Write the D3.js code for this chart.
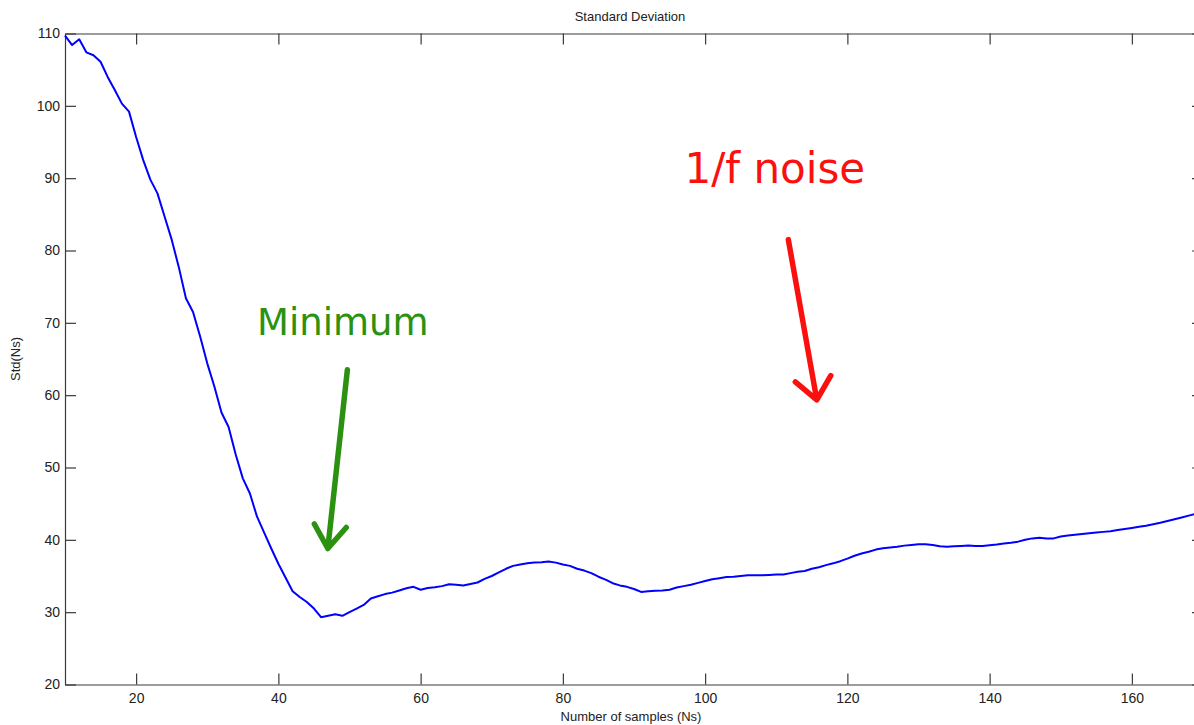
<!DOCTYPE html>
<html>
<head>
<meta charset="utf-8">
<script src="https://cdn.jsdelivr.net/npm/d3@7"></script>
<style>
  body { margin: 0; background: #fff; }
  svg { display: block; }
  text { font-family: "Liberation Sans", Arial, sans-serif; }
</style>
</head>
<body>
<svg id="chart" width="1194" height="725"></svg>
<script>
// samples Ns = 10..170, std
var nsStart = 10,
    nsEnd = 170;

var stdValues = [
    109.7, 108.4, 109.2, 107.4, 107.0, 106.1, 104.0, 102.2, 100.3, 99.2,   // 10-19
    95.7, 92.5, 89.8, 87.9, 84.7, 81.5, 77.7, 73.4, 71.5, 68.1,            // 20-29
    64.4, 61.2, 57.6, 55.6, 51.8, 48.5, 46.4, 43.2, 41.0, 38.8,            // 30-39
    36.7, 34.8, 32.9, 32.1, 31.4, 30.5, 29.3, 29.5, 29.7, 29.5,            // 40-49
    30.0, 30.5, 31.0, 31.9, 32.2, 32.5, 32.7, 33.0, 33.3, 33.5,            // 50-59
    33.1, 33.35, 33.45, 33.6, 33.85, 33.8, 33.7, 33.9, 34.1, 34.6,         // 60-69
    35.0, 35.5, 36.0, 36.4, 36.6, 36.75, 36.85, 36.9, 37.0, 36.85,         // 70-79
    36.6, 36.4, 36.0, 35.75, 35.4, 34.9, 34.5, 34.0, 33.7, 33.5,           // 80-89
    33.2, 32.8, 32.9, 32.95, 33.0, 33.1, 33.4, 33.6, 33.8, 34.05,          // 90-99
    34.3, 34.55, 34.7, 34.85, 34.9, 35.0, 35.1, 35.1, 35.1, 35.15,         // 100-109
    35.2, 35.2, 35.4, 35.6, 35.7, 36.0, 36.2, 36.5, 36.75, 37.05,          // 110-119
    37.4, 37.8, 38.1, 38.35, 38.65, 38.85, 38.95, 39.05, 39.2, 39.3,       // 120-129
    39.4, 39.4, 39.3, 39.1, 39.05, 39.1, 39.15, 39.2, 39.15, 39.15,        // 130-139
    39.25, 39.35, 39.5, 39.6, 39.75, 40.0, 40.2, 40.3, 40.2, 40.2,         // 140-149
    40.45, 40.6, 40.7, 40.8, 40.9, 41.0, 41.1, 41.2, 41.35, 41.5,          // 150-159
    41.65, 41.8, 41.95, 42.15, 42.35, 42.6, 42.85, 43.1, 43.35, 43.6,      // 160-169
    43.85                                                                   // 170
];

var xTicks = [20, 40, 60, 80, 100, 120, 140, 160];
var yTicks = [20, 30, 40, 50, 60, 70, 80, 90, 100, 110];

// hand drawn notes, in data units
var notes = [
    { text: 'Minimum', x: 37.0, y: 68.3, size: 37, color: '#2b9110',
      from: [49.7, 63.5], to: [46.95, 38.8], wing: 35 },
    { text: '1/f noise', x: 97.1, y: 89.3, size: 42, color: '#fb1010',
      from: [111.7, 81.5], to: [115.7, 59.35], wing: 40 }
];

var margin = { top: 33.5, left: 65 },
    plotW = 1138,
    plotH = 651;

var svg = d3.select('#chart');

var x = d3.scaleLinear().domain([nsStart, nsEnd]).range([0, plotW]);
var y = d3.scaleLinear().domain([20, 110]).range([plotH, 0]);

var g = svg.append('g')
    .attr('transform', 'translate(' + margin.left + ',' + margin.top + ')');

var data = stdValues.map(function(v, i) {
    return { ns: nsStart + i, std: v };
});

function styleAxis(sel) {
    sel.select('.domain').attr('stroke', '#3a3a3a').attr('stroke-width', 1.2);
    sel.selectAll('.tick line').attr('stroke', '#3a3a3a').attr('stroke-width', 1.2);
    sel.selectAll('.tick text')
        .attr('fill', '#222')
        .style('font-size', '14px')
        .style('font-family', '"Liberation Sans", Arial, sans-serif');
}

g.append('g')
    .attr('transform', 'translate(0,' + plotH + ')')
    .call(d3.axisBottom(x).tickValues(xTicks).tickSizeInner(-11).tickSizeOuter(0).tickPadding(8.5))
    .call(styleAxis);

g.append('g')
    .call(d3.axisTop(x).tickValues(xTicks).tickSizeInner(-11).tickSizeOuter(0).tickFormat(''))
    .call(styleAxis);

g.append('g')
    .call(d3.axisLeft(y).tickValues(yTicks).tickSizeInner(-11).tickSizeOuter(0).tickPadding(5))
    .call(styleAxis);

g.append('g')
    .attr('transform', 'translate(' + plotW + ',0)')
    .call(d3.axisRight(y).tickValues(yTicks).tickSizeInner(-11).tickSizeOuter(0).tickFormat(''))
    .call(styleAxis);

var line = d3.line()
    .x(function(d) { return x(d.ns); })
    .y(function(d) { return y(d.std); });

g.append('path')
    .datum(data)
    .attr('fill', 'none')
    .attr('stroke', '#0000ff')
    .attr('stroke-width', 2)
    .attr('stroke-linejoin', 'round')
    .attr('d', line);

// titles
svg.append('text')
    .attr('x', 630)
    .attr('y', 21)
    .attr('text-anchor', 'middle')
    .attr('fill', '#222')
    .style('font-size', '13px')
    .text('Standard Deviation');

svg.append('text')
    .attr('x', margin.left + plotW / 2 - 3)
    .attr('y', 721)
    .attr('text-anchor', 'middle')
    .attr('fill', '#222')
    .style('font-size', '13px')
    .text('Number of samples (Ns)');

svg.append('text')
    .attr('transform', 'translate(20,' + (margin.top + plotH / 2) + ') rotate(-90)')
    .attr('text-anchor', 'middle')
    .attr('fill', '#222')
    .style('font-size', '13px')
    .text('Std(Ns)');

// annotations
notes.forEach(function(n) {
    g.append('text')
        .attr('x', x(n.x))
        .attr('y', y(n.y))
        .attr('fill', n.color)
        .style('font-family', '"DejaVu Sans", Verdana, sans-serif')
        .style('font-size', n.size + 'px')
        .text(n.text);

    var x0 = x(n.from[0]), y0 = y(n.from[1]),
        x1 = x(n.to[0]), y1 = y(n.to[1]);
    var ang = Math.atan2(y0 - y1, x0 - x1),
        len = 28,
        w = n.wing * Math.PI / 180;

    var p = d3.path();
    p.moveTo(x0, y0);
    p.lineTo(x1, y1);
    p.moveTo(x1 + len * Math.cos(ang - w), y1 + len * Math.sin(ang - w));
    p.lineTo(x1, y1);
    p.lineTo(x1 + len * Math.cos(ang + w), y1 + len * Math.sin(ang + w));

    g.append('path')
        .attr('d', p.toString())
        .attr('fill', 'none')
        .attr('stroke', n.color)
        .attr('stroke-width', 5.5)
        .attr('stroke-linecap', 'round')
        .attr('stroke-linejoin', 'round');
});
</script>
</body>
</html>
